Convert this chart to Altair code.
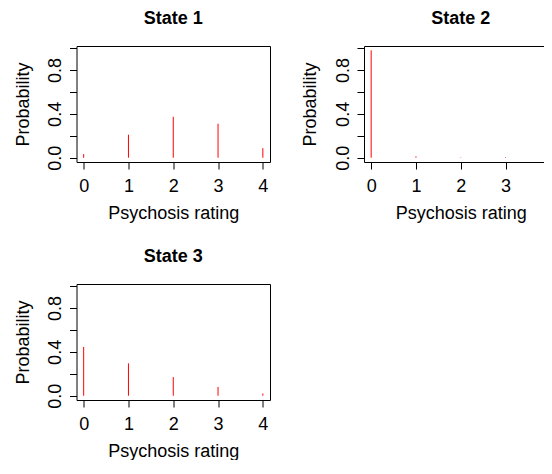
import altair as alt
import pandas as pd

ratings = [0, 1, 2, 3, 4]
state1 = [0.033, 0.21, 0.373, 0.31, 0.087]
state2 = [0.98, 0.012, 0.003, 0.005, 0.005]
state3 = [0.445, 0.295, 0.17, 0.08, 0.02]
titles = ["State 1", "State 2", "State 3"]
y_ticks = [0, 0.2, 0.4, 0.6, 0.8, 1.0]
x_ticks = [0, 1, 2, 3, 4]

FONT = "Liberation Sans"
W, H = 193.5, 116


def panel(vals, title):
    df = pd.DataFrame({"rating": ratings, "prob": vals, "base": [0] * len(vals)})
    return (
        alt.Chart(
            df,
            title=alt.TitleParams(
                text=title, font=FONT, fontSize=18, fontWeight="bold", color="black",
                anchor="middle", frame="group", baseline="alphabetic", offset=4,
            ),
        )
        .mark_rule(color="red", strokeWidth=1)
        .encode(
            x=alt.X(
                "rating:Q",
                scale=alt.Scale(domain=[-0.16, 4.16], nice=False, zero=False),
                axis=alt.Axis(
                    values=x_ticks, format="d", title="Psychosis rating",
                    labelPadding=22, labelBaseline="alphabetic", labelAlign="center",
                    titleY=56, titleBaseline="alphabetic",
                ),
            ),
            y=alt.Y(
                "base:Q",
                scale=alt.Scale(domain=[-0.0392, 1.0192], nice=False, zero=False),
                axis=alt.Axis(
                    values=y_ticks, title="Probability",
                    labelExpr="(datum.value == 0 || datum.value == 0.4 || datum.value == 0.8) ? format(datum.value, '.1f') : ''",
                    labelAngle=270, labelAlign="center", labelBaseline="alphabetic",
                    labelPadding=9, titleAngle=270, titleX=-48.5, titleY=H / 2,
                    titleAlign="center", titleBaseline="alphabetic",
                ),
            ),
            y2="prob:Q",
        )
        .properties(width=W, height=H)
    )


p1 = panel(state1, titles[0])
p2 = panel(state2, titles[1])
p3 = panel(state3, titles[2])

chart = (
    alt.concat(p1, p2, p3, columns=2, spacing={"row": 122, "column": 93.5}, bounds="flush")
    .properties(
        autosize=alt.AutoSizeParams(type="none"),
        padding={"left": 68.5, "top": 38, "right": 467.5, "bottom": 414},
    )
    .configure(font=FONT)
    .configure_view(stroke="black", strokeWidth=1)
    .configure_axis(
        domain=False, grid=False, ticks=True, tickSize=7, tickColor="black", tickWidth=1,
        labelFont=FONT, labelFontSize=18, labelColor="black", labelOverlap=False, labelFlush=False,
        titleFont=FONT, titleFontSize=18, titleFontWeight="normal", titleColor="black",
    )
)

chart.save("out.html", embed_options={"renderer": "svg", "actions": False})
